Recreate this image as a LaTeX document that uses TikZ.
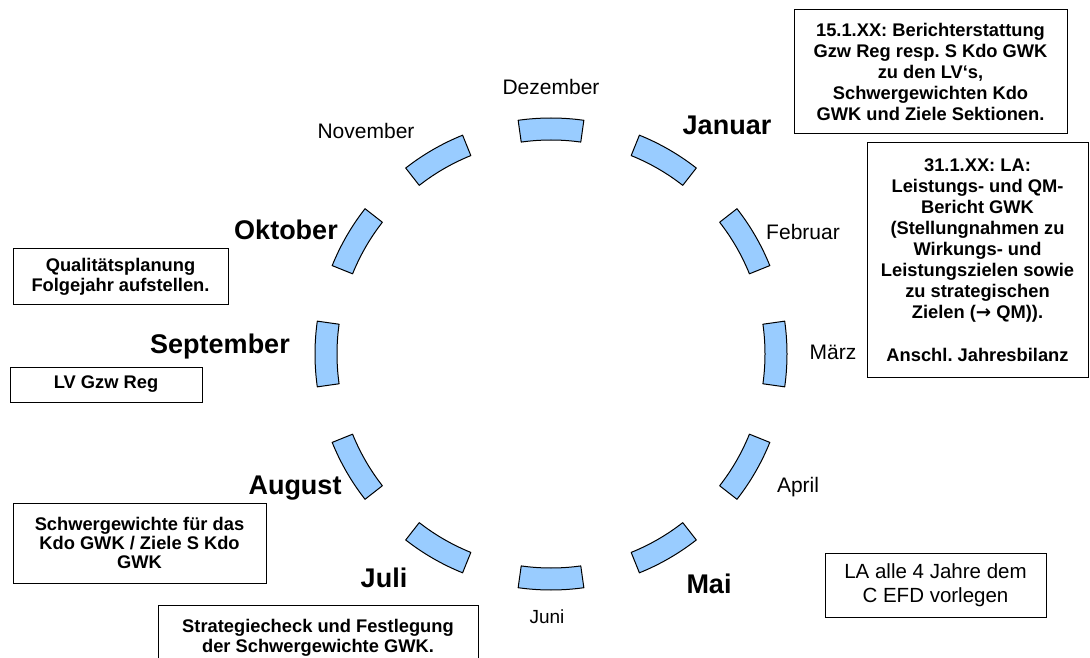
\documentclass[tikz,border=0pt]{standalone}
\usepackage{fontspec}
\setmainfont{Liberation Sans}
\newfontfamily\arrowfont{DejaVu Sans}
\frenchspacing
\definecolor{segblue}{HTML}{99CCFF}
\begin{document}
\begin{tikzpicture}[x=1pt,y=1pt,
  seg/.style={draw=black, line width=1pt, fill=segblue, line join=round},
  mon/.style={font=\fontsize{21}{25}\selectfont, inner sep=0pt},
  monb/.style={font=\fontsize{27}{32}\selectfont\bfseries, inner sep=0pt},
  box/.style={draw=black, line width=1pt, align=center, inner sep=0pt,
              font=\fontsize{18.3}{21}\selectfont\bfseries},
  rbox/.style={draw=black, line width=1pt, align=center, inner sep=0pt,
              font=\fontsize{20.5}{24}\selectfont}]
\useasboundingbox (0,0) rectangle (1090,657);
\fill[white] (0,0) rectangle (1090,657);

% ring segments
\foreach \a in {90,60,...,-240}{
  \draw[seg, shift={(551,303)}]
    ({\a-8}:214pt) arc[start angle={\a-8}, end angle={\a+8}, radius=214pt]
    -- ({\a+8}:236pt) arc[start angle={\a+8}, end angle={\a-8}, radius=236pt]
    -- cycle;
}

% month labels
\node[mon]  (dez) at (551,570.5) {Dezember};
\node[mon]  (nov) at (366,526.5) {November};
\node[monb] (jan) at (727,532)   {Januar};
\node[monb] (okt) at (286,427)   {Oktober};
\node[mon]  (feb) at (803,425)   {Februar};
\node[monb] (sep) at (220,310)   {September};
\node[mon]  (mar) at (833,304.5) {März};
\node[monb] (aug) at (295,169)   {August};
\node[mon]  (apr) at (798,170)   {April};
\node[monb] (jul) at (384,79)    {Juli};
\node[monb] (mai) at (709,73)    {Mai};
\node[mon, font=\fontsize{19}{22}\selectfont] (jun) at (547,40) {Juni};

% boxes
\node[box, minimum width=273pt, minimum height=124pt] (b1) at (930.5,585)
  {15.1.XX: Berichterstattung\\Gzw Reg resp. S Kdo GWK\\zu den LV‘s,\\Schwergewichten Kdo\\GWK und Ziele Sektionen.};
\node[box, minimum width=221pt, minimum height=234pt] (b2) at (977.5,397)
  {31.1.XX: LA:\\Leistungs- und QM-\\Bericht GWK\\(Stellungnahmen zu\\Wirkungs- und\\Leistungszielen sowie\\zu strategischen\\Zielen ({\arrowfont\bfseries →} QM)).\\[22pt]Anschl. Jahresbilanz};
\node[box, minimum width=215pt, minimum height=56pt, font=\fontsize{18.3}{20}\selectfont\bfseries] (b3) at (120.5,380)
  {Qualitätsplanung\\Folgejahr aufstellen.};
\node[box, minimum width=192pt, minimum height=35pt] (b4) at (106,272.5)
  {LV Gzw Reg};
\node[box, minimum width=253pt, minimum height=80pt, font=\fontsize{18.3}{19}\selectfont\bfseries] (b5) at (139.5,114)
  {Schwergewichte für das\\Kdo GWK / Ziele S Kdo\\GWK};
\node[box, minimum width=320pt, minimum height=66pt, font=\fontsize{18.3}{20}\selectfont\bfseries] (b6) at (318,19)
  {Strategiecheck und Festlegung\\der Schwergewichte GWK.};
\node[rbox, minimum width=221pt, minimum height=64pt] (b7) at (935.5,72)
  {LA alle 4 Jahre dem\\C EFD vorlegen};
\end{tikzpicture}
\end{document}
